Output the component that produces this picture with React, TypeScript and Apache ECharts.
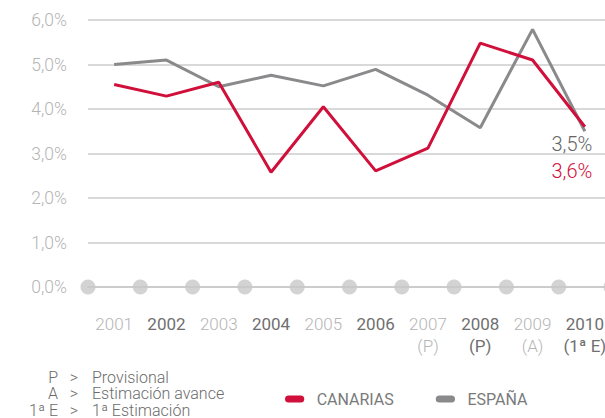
import React, { useEffect, useRef } from "react";
import * as echarts from "echarts";

const years = ["2001", "2002", "2003", "2004", "2005", "2006", "2007", "2008", "2009", "2010"];
const yearNotes = ["", "", "", "", "", "", "(P)", "(P)", "(A)", "(1ª E)"];
const canarias = [4.55, 4.29, 4.6, 2.58, 4.05, 2.61, 3.12, 5.48, 5.1, 3.6];
const espana = [5.0, 5.1, 4.5, 4.76, 4.52, 4.89, 4.31, 3.58, 5.79, 3.5];
const baselineDots = [0, 1, 2, 3, 4, 5, 6, 7, 8, 9, 10];
const footnoteKeys = ["P", "A", "1ª E"];
const footnoteTexts = ["Provisional", "Estimación avance", "1ª Estimación"];
const seriesNames = ["CANARIAS", "ESPAÑA"];

const RED = "#d0103a";
const GRAY = "#8a8a8c";

const fmt = (v: number) => v.toFixed(1).replace(".", ",") + "%";

export default function App() {
  const ref = useRef<HTMLDivElement>(null);
  useEffect(() => {
    document.body.style.margin = "0";
    const chart = echarts.init(ref.current!, null, { renderer: "svg" });
    const last = years.length - 1;
    const footGraphics: any[] = [];
    footnoteKeys.forEach((k, i) => {
      const y = 377 + i * 16.5;
      const common = { fontFamily: "Roboto", fontWeight: 300, fontSize: 16, lineHeight: 16, fill: "#6b6b6b", verticalAlign: "middle" };
      footGraphics.push({ type: "text", x: 58, y, style: { ...common, text: k, align: "right" } });
      footGraphics.push({ type: "text", x: 74, y, style: { ...common, text: ">", align: "center" } });
      footGraphics.push({ type: "text", x: 92, y, style: { ...common, text: footnoteTexts[i], align: "left" } });
    });
    const pill = "path://M4,0 H18 A4,4 0 0 1 18,8 H4 A4,4 0 0 1 4,0 Z";
    const yearFont = "Roboto";
    chart.setOption({
      animation: false,
      grid: { left: 88, top: 20, width: 523, height: 267, outerBoundsMode: "none", containLabel: false },
      legend: {
        data: seriesNames,
        left: 285,
        top: 391,
        padding: 0,
        icon: pill,
        itemWidth: 22,
        itemHeight: 7,
        itemGap: 42,
        textStyle: { fontFamily: "Roboto", fontSize: 16, color: "#7a7a7a", padding: [0, 0, 0, 6] },
      },
      xAxis: [
        {
          type: "category",
          data: years,
          boundaryGap: true,
          axisLine: { show: true, lineStyle: { color: "#cccccc", width: 2 } },
          axisTick: { show: false },
          splitLine: { show: false },
          axisLabel: {
            margin: 26,
            interval: 0,
            formatter: (val: string, idx: number) => {
              const s = idx % 2 === 0 ? "l" : "d";
              const note = yearNotes[idx];
              return `{${s}|${val}}` + (note ? `\n{${s}|${note}}` : "");
            },
            rich: {
              l: { fontFamily: yearFont, fontWeight: 300, fontSize: 17, color: "#b5b5b5", lineHeight: 22 },
              d: { fontFamily: yearFont, fontWeight: 400, fontSize: 17, color: "#6f6f6f", lineHeight: 22 },
            },
          },
        },
        { type: "value", min: 0, max: 10, show: false },
      ],
      yAxis: {
        type: "value",
        min: 0,
        max: 6,
        interval: 1,
        axisLine: { show: false },
        axisTick: { show: false },
        splitLine: { lineStyle: { color: "#cccccc", width: 1.5 } },
        axisLabel: {
          margin: 21,
          formatter: (v: number) => fmt(v),
          fontFamily: "Roboto",
          fontWeight: 300,
          fontSize: 17.5,
          color: "#b5b5b5",
        },
      },
      graphic: footGraphics,
      series: [
        {
          type: "scatter",
          xAxisIndex: 1,
          data: baselineDots.map((b) => [b, 0]),
          symbolSize: 15,
          itemStyle: { color: "#c8c8c8" },
          clip: false,
          silent: true,
          z: 1,
        },
        {
          name: seriesNames[1],
          type: "line",
          data: espana,
          symbol: "none",
          lineStyle: { color: GRAY, width: 3 },
          itemStyle: { color: GRAY },
          z: 3,
          markPoint: {
            symbol: "circle",
            symbolSize: 0,
            data: [{ coord: [last, espana[last]], value: espana[last] }],
            label: {
              show: true,
              position: "inside",
              offset: [-13, 13],
              formatter: (p: any) => fmt(p.value),
              fontFamily: "Roboto",
              fontWeight: 300,
              fontSize: 20,
              color: "#666666",
            },
          },
        },
        {
          name: seriesNames[0],
          type: "line",
          data: canarias,
          symbol: "none",
          lineStyle: { color: RED, width: 3 },
          itemStyle: { color: RED },
          z: 4,
          markPoint: {
            symbol: "circle",
            symbolSize: 0,
            data: [{ coord: [last, canarias[last]], value: canarias[last] }],
            label: {
              show: true,
              position: "inside",
              offset: [-13, 44],
              formatter: (p: any) => fmt(p.value),
              fontFamily: "Roboto",
              fontWeight: 300,
              fontSize: 20,
              color: RED,
            },
          },
        },
      ],
    });
    return () => chart.dispose();
  }, []);
  return <div ref={ref} style={{ width: 605, height: 418 }} />;
}
